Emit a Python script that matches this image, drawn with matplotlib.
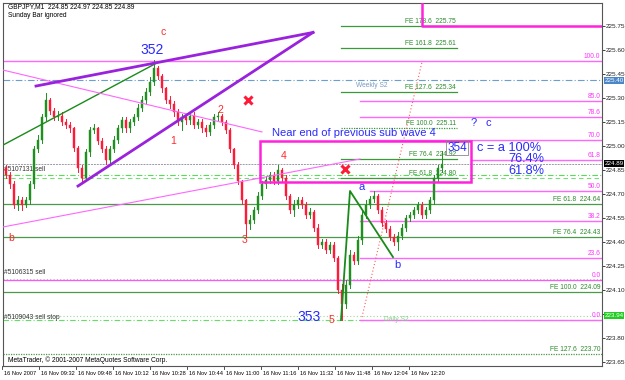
import numpy as np
import matplotlib
matplotlib.use("Agg")
import matplotlib.pyplot as plt
from matplotlib.patches import Rectangle

# M1 candles (bar index -> price)
opens = [224.86, 224.82, 224.76, 224.63, 224.66, 224.63, 224.66, 224.76, 224.98, 225.04,
         225.18, 225.29, 225.22, 225.18, 225.19, 225.15, 225.13, 225.11, 224.99, 224.86,
         224.80, 224.96, 225.10, 225.11, 225.03, 224.98, 224.91, 224.98, 225.04, 225.11,
         225.16, 225.11, 225.15, 225.18, 225.24, 225.29, 225.34, 225.40, 225.49, 225.44,
         225.36, 225.29, 225.26, 225.21, 225.15, 225.18, 225.16, 225.19, 225.13, 225.15,
         225.11, 225.09, 225.13, 225.18, 225.19, 225.15, 225.10, 224.98, 224.88, 224.78,
         224.66, 224.51, 224.54, 224.60, 224.69, 224.76, 224.79, 224.82, 224.78, 224.85,
         224.80, 224.69, 224.60, 224.63, 224.66, 224.63, 224.57, 224.59, 224.49, 224.38,
         224.40, 224.35, 224.38, 224.30, 224.10, 224.01, 224.13, 224.32, 224.28, 224.41,
         224.57, 224.63, 224.67, 224.69, 224.60, 224.52, 224.48, 224.43, 224.40, 224.44,
         224.49, 224.55, 224.57, 224.60, 224.63, 224.57, 224.60, 224.66, 224.80, 224.86]
closes = [224.82, 224.76, 224.63, 224.66, 224.63, 224.66, 224.76, 224.98, 225.04, 225.18,
          225.29, 225.22, 225.18, 225.19, 225.15, 225.13, 225.11, 224.99, 224.86, 224.80,
          224.96, 225.10, 225.11, 225.03, 224.98, 224.91, 224.98, 225.04, 225.11, 225.16,
          225.11, 225.15, 225.18, 225.24, 225.29, 225.34, 225.40, 225.49, 225.44, 225.36,
          225.29, 225.26, 225.21, 225.15, 225.18, 225.16, 225.19, 225.13, 225.15, 225.11,
          225.09, 225.13, 225.18, 225.19, 225.15, 225.10, 224.98, 224.88, 224.78, 224.66,
          224.51, 224.54, 224.60, 224.69, 224.76, 224.79, 224.82, 224.78, 224.85, 224.80,
          224.69, 224.60, 224.63, 224.66, 224.63, 224.57, 224.59, 224.49, 224.38, 224.40,
          224.35, 224.38, 224.30, 224.10, 224.01, 224.13, 224.32, 224.28, 224.41, 224.57,
          224.63, 224.67, 224.69, 224.60, 224.52, 224.48, 224.43, 224.40, 224.44, 224.49,
          224.55, 224.57, 224.60, 224.63, 224.57, 224.60, 224.66, 224.80, 224.86, 224.89]
highs = [224.88, 224.84, 224.78, 224.69, 224.68, 224.68, 224.78, 225.00, 225.07, 225.20,
         225.33, 225.30, 225.24, 225.22, 225.21, 225.17, 225.15, 225.12, 225.00, 224.88,
         224.98, 225.12, 225.14, 225.12, 225.05, 225.00, 225.00, 225.06, 225.13, 225.18,
         225.18, 225.17, 225.20, 225.26, 225.31, 225.36, 225.43, 225.54, 225.50, 225.45,
         225.37, 225.31, 225.28, 225.23, 225.20, 225.20, 225.21, 225.21, 225.17, 225.17,
         225.13, 225.15, 225.20, 225.21, 225.20, 225.16, 225.11, 224.99, 224.90, 224.79,
         224.67, 224.57, 224.62, 224.71, 224.78, 224.81, 224.84, 224.84, 224.88, 224.86,
         224.82, 224.70, 224.66, 224.68, 224.68, 224.65, 224.61, 224.60, 224.51, 224.42,
         224.42, 224.40, 224.40, 224.31, 224.14, 224.16, 224.35, 224.34, 224.44, 224.60,
         224.66, 224.69, 224.72, 224.70, 224.62, 224.54, 224.50, 224.45, 224.46, 224.51,
         224.57, 224.59, 224.62, 224.65, 224.65, 224.62, 224.68, 224.82, 224.88, 224.97]
lows = [224.80, 224.74, 224.61, 224.60, 224.60, 224.62, 224.64, 224.74, 224.96, 225.02,
        225.16, 225.20, 225.16, 225.16, 225.13, 225.11, 225.09, 224.97, 224.84, 224.77,
        224.78, 224.94, 225.08, 225.01, 224.96, 224.89, 224.89, 224.96, 225.02, 225.09,
        225.09, 225.09, 225.13, 225.16, 225.22, 225.27, 225.32, 225.38, 225.42, 225.34,
        225.27, 225.24, 225.19, 225.13, 225.10, 225.14, 225.14, 225.11, 225.11, 225.09,
        225.06, 225.07, 225.11, 225.16, 225.13, 225.08, 224.96, 224.86, 224.76, 224.64,
        224.43, 224.48, 224.52, 224.58, 224.67, 224.74, 224.77, 224.76, 224.76, 224.78,
        224.67, 224.58, 224.56, 224.61, 224.61, 224.55, 224.55, 224.47, 224.36, 224.36,
        224.33, 224.33, 224.28, 224.08, 223.91, 223.99, 224.11, 224.26, 224.26, 224.39,
        224.55, 224.61, 224.65, 224.58, 224.50, 224.46, 224.41, 224.38, 224.35, 224.42,
        224.47, 224.53, 224.55, 224.58, 224.55, 224.55, 224.58, 224.64, 224.78, 224.84]

# price scale and time labels
price_ticks = [225.75, 225.60, 225.45, 225.30, 225.15, 225.00, 224.85, 224.70,
               224.55, 224.40, 224.25, 224.10, 223.95, 223.80, 223.65]
time_labels = ["16 Nov 2007", "16 Nov 09:32", "16 Nov 09:48", "16 Nov 10:12", "16 Nov 10:28",
               "16 Nov 10:44", "16 Nov 11:00", "16 Nov 11:16", "16 Nov 11:32", "16 Nov 11:48",
               "16 Nov 12:04", "16 Nov 12:20"]
time_label_bars = [-1.0, 8.25, 17.5, 26.75, 36.0, 45.25, 54.5, 63.75, 73.0, 82.25, 91.5, 100.75]

# fibo retracement (magenta) and fibo expansions (green)
fib_levels = ["100.0", "85.0", "78.6", "70.0", "61.8", "50.0", "38.2", "23.6", "0.0"]
fib_prices = [225.53, 225.28, 225.18, 225.04, 224.91, 224.72, 224.53, 224.30, 223.91]
fib_start = [-0.75, 88.5, 88.5, 88.5, 116.5, 91.0, 88.5, 88.5, 88.5]
fe1_levels = ["178.6", "161.8", "127.6", "100.0", "76.4", "61.8"]
fe1_prices = [225.75, 225.61, 225.34, 225.11, 224.92, 224.80]
fe2_levels = ["61.8", "76.4", "100.0", "127.6"]
fe2_prices = [224.64, 224.43, 224.09, 223.70]

# trend lines [(bar, price), ...]
purple_top = [(7.5, 225.375), (76.75, 225.71)]
purple_low = [(18.0, 224.75), (76.75, 225.71)]
green_chan = [(-0.75, 225.006), (37.75, 225.52)]
pink_down = [(-0.75, 225.475), (64.0, 225.088)]
pink_up = [(-0.75, 224.494), (88.5, 224.919)]
red_dots = [(89.0, 223.931), (104.0, 225.525)]
zigzag = [(83.75, 223.9125), (86.0, 224.719), (96.75, 224.306)]
box_wave4 = (63.5, 224.775, 116.25, 225.031)
box_top_corner = (104.0, 225.75)
crosses = [(60.5, 225.29), (84.75, 224.856)]

red_labels = [("c", 39.25, 225.71), ("1", 41.75, 225.03), ("2", 53.5, 225.225),
              ("3", 59.75, 224.41), ("4", 69.5, 224.94), ("5", 81.25, 223.91),
              ("b", 1.25, 224.425)]
blue_labels = [("a", 89.0, 224.745), ("b", 97.75, 224.256), ("?", 117.0, 225.144),
               ("c", 120.5, 225.144)]

fig = plt.figure(figsize=(6.25, 3.8), dpi=100)
ax = fig.add_axes([3 / 625, 14 / 380, 599 / 625, 363 / 380])
xmin, xmax = -0.75, 149.0
ymin, ymax = 223.625, 225.894
ax.set_xlim(xmin, xmax)
ax.set_ylim(ymin, ymax)
for s in ax.spines.values():
    s.set_color("#555555")
    s.set_linewidth(0.8)
ax.set_xticks([])
ax.yaxis.tick_right()
ax.set_yticks(price_ticks)
ax.set_yticklabels(["%.2f" % p for p in price_ticks], fontsize=4.6, family="Liberation Sans")
ax.tick_params(axis="y", length=2, width=0.6, pad=0.8, colors="#222222")

small = dict(fontsize=4.8, family="Liberation Sans")

# horizontal lines first (behind candles)
ax.axhline(225.41, color="#6a9fd0", lw=0.8, ls=(0, (6, 2, 1, 2)))
ax.axhline(224.89, color="#9a9aa8", lw=0.7, ls=(0, (2, 1)))
ax.axhline(224.82, color="#55dd55", lw=0.8, ls=(0, (5, 2, 1, 2)))
ax.axhline(224.80, color="#77dd77", lw=0.8, ls=(0, (4, 3)))
ax.axhline(224.17, color="#b0c8b0", lw=0.8, ls=(0, (1, 2)))
ax.axhline(223.94, color="#99dd99", lw=0.8, ls=(0, (1, 2)))
ax.axhline(223.91, color="#66dd66", lw=0.8, ls=(0, (5, 2, 1, 2)))
ax.axhline(224.165, color="#ff55ff", lw=0.9)

for lab, p, x0 in zip(fib_levels, fib_prices, fib_start):
    ax.plot([x0, xmax], [p, p], color="#ff66ff", lw=1.0)
    ax.text(148.6, p + 0.006, lab, color="#ff33ff", ha="right", va="bottom", **small)
ax.text(148.6, 224.171, "0.0", color="#ff33ff", ha="right", va="bottom", **small)

for lab, p in zip(fe1_levels, fe1_prices):
    ls = (0, (1, 1)) if lab == "100.0" else "-"
    ax.plot([83.75, 112.75], [p, p], color="#3a9a3a", lw=0.9, ls=ls)
    ax.text(112.5, p + 0.006, "FE %s  %.2f" % (lab, p), color="#2a8a2a",
            ha="right", va="bottom", **small)
for lab, p in zip(fe2_levels, fe2_prices):
    ls = (0, (1, 1)) if lab == "127.6" else "-"
    ax.axhline(p, color="#4a9a4a", lw=0.9, ls=ls)
    ax.text(148.6, p + 0.006, "FE %s  %.2f" % (lab, p), color="#2a8a2a",
            ha="right", va="bottom", **small)

ax.text(87.5, 225.37, "Weekly S2", color="#7a9ac0", **small)
ax.text(94.5, 223.915, "Daily S2", color="#88cc88", va="center", **small)
ax.text(-0.5, 224.83, "#5107131 sell", color="#333333", va="bottom", **small)
ax.text(-0.5, 224.185, "#5106315 sell", color="#333333", va="bottom", **small)
ax.text(-0.5, 223.93, "#5109043 sell stop", color="#333333", va="center", **small)

# candles
bars = np.arange(len(closes))
for i in bars:
    o, h, l, c = opens[i], highs[i], lows[i], closes[i]
    col = "#1f8f1f" if c >= o else "#ff1a3a"
    ax.plot([i, i], [l, h], color=col, lw=0.7, zorder=3)
    ax.add_patch(Rectangle((i - 0.36, min(o, c)), 0.72, max(abs(c - o), 0.004),
                           facecolor=col, edgecolor=col, lw=0.3, zorder=3))

# trend lines and objects
def draw(pts, **kw):
    xs, ys = zip(*pts)
    ax.plot(xs, ys, **kw)

draw(green_chan, color="#1a8a1a", lw=1.0, zorder=4)
draw(pink_down, color="#ff66ff", lw=0.8, zorder=4)
draw(pink_up, color="#ff66ff", lw=0.8, zorder=4)
draw(purple_top, color="#9a22dd", lw=2.0, zorder=5)
draw(purple_low, color="#9a22dd", lw=2.0, zorder=5)
draw(red_dots, color="#ff5a5a", lw=0.8, ls=(0, (1, 2)), zorder=5)
draw(zigzag, color="#1a8a1a", lw=1.3, zorder=5)

bx0, by0, bx1, by1 = box_wave4
ax.add_patch(Rectangle((bx0, by0), bx1 - bx0, by1 - by0, fill=False,
                       edgecolor="#ff22dd", lw=1.8, zorder=6))
cx, cy = box_top_corner
ax.plot([cx, cx, xmax], [ymax, cy, cy], color="#ff22dd", lw=1.8, zorder=6)

for x, y in crosses:
    ax.plot(x, y, marker="x", color="#ff1a3a", ms=6, mew=2.2, zorder=6)

for t, x, y in red_labels:
    ax.text(x, y, t, color="#ff2a2a", fontsize=7.5, ha="center", va="center",
            family="Liberation Sans", zorder=7)
for t, x, y in blue_labels:
    ax.text(x, y, t, color="#2a2aff", fontsize=8, ha="center", va="center",
            family="Liberation Sans", zorder=7)

ax.text(36.5, 225.60, "352", color="#2a2aff", fontsize=10, ha="center", va="center",
        family="Liberation Sans", zorder=7)
ax.text(75.75, 223.93, "353", color="#2a2aff", fontsize=10, ha="center", va="center",
        family="Liberation Sans", zorder=7)
ax.text(112.75, 224.99, "354", color="#2a2aff", fontsize=8.5, ha="center", va="center",
        family="Liberation Sans", zorder=7,
        bbox=dict(boxstyle="square,pad=0.1", fc="none", ec="#888888", lw=0.6))
ax.text(66.5, 225.08, "Near end of previous sub wave 4", color="#2a2aff", fontsize=8.0,
        va="center", family="Liberation Sans", zorder=7)
ax.text(117.75, 224.99, "c = a 100%", color="#2a2aff", fontsize=9.2, va="center",
        family="Liberation Sans", zorder=7)
ax.text(125.5, 224.92, "76.4%", color="#2a2aff", fontsize=9.2, va="center",
        family="Liberation Sans", zorder=7)
ax.text(125.5, 224.845, "61.8%", color="#2a2aff", fontsize=9.2, va="center",
        family="Liberation Sans", zorder=7)

# price boxes on the scale
def price_box(p, txt, fc, tc):
    ax.text(1.004, (p - ymin) / (ymax - ymin), txt, transform=ax.transAxes,
            fontsize=4.5, color=tc, va="center", ha="left", family="Liberation Sans",
            bbox=dict(boxstyle="square,pad=0.12", fc=fc, ec="none"), clip_on=False)

price_box(225.41, "225.40", "#4a86c8", "white")
price_box(224.89, "224.89", "black", "white")
price_box(223.94, "223.94", "#22cc22", "white")

# header and footer text
ax.text(0.5, 225.87, "GBPJPY,M1  224.85 224.97 224.85 224.89", va="center", **small)
ax.text(0.5, 225.815, "Sunday Bar ignored", va="center", **small)
ax.text(0.5, 223.66, "MetaTrader, \u00a9 2001-2007 MetaQuotes Software Corp.", va="center", **small)

# time scale below the frame
for lab, b in zip(time_labels, time_label_bars):
    ax.plot([b, b], [ymin, ymin - 0.02], color="#333333", lw=0.6, clip_on=False)
    ax.text(b + 0.4, ymin - 0.045, lab, ha="left", va="center", clip_on=False,
            fontsize=4.1, family="Liberation Sans")

fig.savefig("out.png", dpi=100, facecolor="white")
